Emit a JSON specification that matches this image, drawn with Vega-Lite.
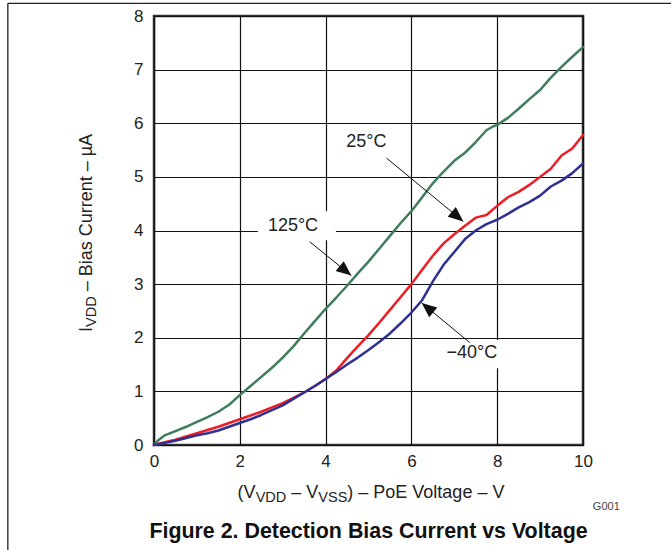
{
  "$schema": "https://vega.github.io/schema/vega-lite/v6.json",
  "width": 429,
  "height": 429,
  "autosize": {"type": "none"},
  "padding": {"left": 154, "top": 16, "right": 88, "bottom": 105},
  "background": "white",
  "config": {
    "view": {"stroke": "#333333", "strokeWidth": 2.5},
    "font": "Liberation Sans",
    "text": {"font": "Liberation Sans"},
    "axis": {
      "grid": true, "gridColor": "#111111", "gridWidth": 1.2, "gridOpacity": 1,
      "domain": false, "ticks": false, "labelFont": "Liberation Sans", "labelFontSize": 17,
      "labelColor": "#222222", "labelFlush": false
    },
    "axisX": {"tickCount": 5, "labelPadding": 8},
    "axisY": {"tickCount": 8, "labelPadding": 11}
  },
  "datasets": {
    "curves": [
      {"v": 0, "i": 0, "s": "125°C"}, {"v": 0.1, "i": 0.09, "s": "125°C"}, {"v": 0.25, "i": 0.18, "s": "125°C"},
      {"v": 0.5, "i": 0.26, "s": "125°C"}, {"v": 0.75, "i": 0.34, "s": "125°C"}, {"v": 1.0, "i": 0.43, "s": "125°C"},
      {"v": 1.25, "i": 0.52, "s": "125°C"}, {"v": 1.5, "i": 0.62, "s": "125°C"}, {"v": 1.75, "i": 0.75, "s": "125°C"},
      {"v": 2.0, "i": 0.93, "s": "125°C"}, {"v": 2.25, "i": 1.1, "s": "125°C"}, {"v": 2.5, "i": 1.27, "s": "125°C"},
      {"v": 2.75, "i": 1.44, "s": "125°C"}, {"v": 3.0, "i": 1.63, "s": "125°C"}, {"v": 3.25, "i": 1.84, "s": "125°C"},
      {"v": 3.5, "i": 2.08, "s": "125°C"}, {"v": 3.75, "i": 2.31, "s": "125°C"}, {"v": 4.0, "i": 2.54, "s": "125°C"},
      {"v": 4.25, "i": 2.75, "s": "125°C"}, {"v": 4.5, "i": 2.97, "s": "125°C"}, {"v": 4.75, "i": 3.2, "s": "125°C"},
      {"v": 5.0, "i": 3.42, "s": "125°C"}, {"v": 5.25, "i": 3.66, "s": "125°C"}, {"v": 5.5, "i": 3.9, "s": "125°C"},
      {"v": 5.75, "i": 4.14, "s": "125°C"}, {"v": 6.0, "i": 4.36, "s": "125°C"}, {"v": 6.25, "i": 4.62, "s": "125°C"},
      {"v": 6.5, "i": 4.88, "s": "125°C"}, {"v": 6.75, "i": 5.1, "s": "125°C"}, {"v": 7.0, "i": 5.3, "s": "125°C"},
      {"v": 7.25, "i": 5.45, "s": "125°C"}, {"v": 7.5, "i": 5.65, "s": "125°C"}, {"v": 7.75, "i": 5.87, "s": "125°C"},
      {"v": 7.9, "i": 5.94, "s": "125°C"}, {"v": 8.0, "i": 5.97, "s": "125°C"}, {"v": 8.25, "i": 6.1, "s": "125°C"},
      {"v": 8.5, "i": 6.27, "s": "125°C"}, {"v": 8.75, "i": 6.45, "s": "125°C"}, {"v": 9.0, "i": 6.62, "s": "125°C"},
      {"v": 9.25, "i": 6.85, "s": "125°C"}, {"v": 9.5, "i": 7.05, "s": "125°C"}, {"v": 9.75, "i": 7.24, "s": "125°C"},
      {"v": 10.0, "i": 7.42, "s": "125°C"},
      {"v": 0, "i": 0, "s": "25°C"}, {"v": 0.25, "i": 0.05, "s": "25°C"}, {"v": 0.5, "i": 0.1, "s": "25°C"},
      {"v": 0.75, "i": 0.16, "s": "25°C"}, {"v": 1.0, "i": 0.22, "s": "25°C"}, {"v": 1.25, "i": 0.28, "s": "25°C"},
      {"v": 1.5, "i": 0.34, "s": "25°C"}, {"v": 1.75, "i": 0.41, "s": "25°C"}, {"v": 2.0, "i": 0.48, "s": "25°C"},
      {"v": 2.25, "i": 0.55, "s": "25°C"}, {"v": 2.5, "i": 0.62, "s": "25°C"}, {"v": 2.75, "i": 0.7, "s": "25°C"},
      {"v": 3.0, "i": 0.78, "s": "25°C"}, {"v": 3.25, "i": 0.88, "s": "25°C"}, {"v": 3.5, "i": 0.98, "s": "25°C"},
      {"v": 3.75, "i": 1.1, "s": "25°C"}, {"v": 4.0, "i": 1.23, "s": "25°C"}, {"v": 4.25, "i": 1.39, "s": "25°C"},
      {"v": 4.5, "i": 1.62, "s": "25°C"}, {"v": 4.75, "i": 1.84, "s": "25°C"}, {"v": 5.0, "i": 2.05, "s": "25°C"},
      {"v": 5.25, "i": 2.28, "s": "25°C"}, {"v": 5.5, "i": 2.52, "s": "25°C"}, {"v": 5.75, "i": 2.76, "s": "25°C"},
      {"v": 6.0, "i": 3.0, "s": "25°C"}, {"v": 6.25, "i": 3.27, "s": "25°C"}, {"v": 6.5, "i": 3.53, "s": "25°C"},
      {"v": 6.75, "i": 3.76, "s": "25°C"}, {"v": 7.0, "i": 3.93, "s": "25°C"}, {"v": 7.25, "i": 4.09, "s": "25°C"},
      {"v": 7.5, "i": 4.24, "s": "25°C"}, {"v": 7.75, "i": 4.29, "s": "25°C"}, {"v": 8.0, "i": 4.46, "s": "25°C"},
      {"v": 8.25, "i": 4.62, "s": "25°C"}, {"v": 8.5, "i": 4.72, "s": "25°C"}, {"v": 8.75, "i": 4.85, "s": "25°C"},
      {"v": 9.0, "i": 5.0, "s": "25°C"}, {"v": 9.25, "i": 5.15, "s": "25°C"}, {"v": 9.5, "i": 5.4, "s": "25°C"},
      {"v": 9.75, "i": 5.53, "s": "25°C"}, {"v": 10.0, "i": 5.78, "s": "25°C"},
      {"v": 0, "i": 0, "s": "−40°C"}, {"v": 0.25, "i": 0.04, "s": "−40°C"}, {"v": 0.5, "i": 0.08, "s": "−40°C"},
      {"v": 0.75, "i": 0.13, "s": "−40°C"}, {"v": 1.0, "i": 0.18, "s": "−40°C"}, {"v": 1.25, "i": 0.22, "s": "−40°C"},
      {"v": 1.5, "i": 0.27, "s": "−40°C"}, {"v": 1.75, "i": 0.34, "s": "−40°C"}, {"v": 2.0, "i": 0.41, "s": "−40°C"},
      {"v": 2.25, "i": 0.48, "s": "−40°C"}, {"v": 2.5, "i": 0.56, "s": "−40°C"}, {"v": 2.75, "i": 0.65, "s": "−40°C"},
      {"v": 3.0, "i": 0.74, "s": "−40°C"}, {"v": 3.25, "i": 0.86, "s": "−40°C"}, {"v": 3.5, "i": 0.98, "s": "−40°C"},
      {"v": 3.75, "i": 1.1, "s": "−40°C"}, {"v": 4.0, "i": 1.23, "s": "−40°C"}, {"v": 4.25, "i": 1.36, "s": "−40°C"},
      {"v": 4.5, "i": 1.5, "s": "−40°C"}, {"v": 4.75, "i": 1.63, "s": "−40°C"}, {"v": 5.0, "i": 1.77, "s": "−40°C"},
      {"v": 5.25, "i": 1.92, "s": "−40°C"}, {"v": 5.5, "i": 2.08, "s": "−40°C"}, {"v": 5.75, "i": 2.27, "s": "−40°C"},
      {"v": 6.0, "i": 2.47, "s": "−40°C"}, {"v": 6.25, "i": 2.7, "s": "−40°C"}, {"v": 6.5, "i": 3.05, "s": "−40°C"},
      {"v": 6.75, "i": 3.36, "s": "−40°C"}, {"v": 7.0, "i": 3.6, "s": "−40°C"}, {"v": 7.25, "i": 3.84, "s": "−40°C"},
      {"v": 7.5, "i": 4.0, "s": "−40°C"}, {"v": 7.75, "i": 4.12, "s": "−40°C"}, {"v": 8.0, "i": 4.2, "s": "−40°C"},
      {"v": 8.25, "i": 4.31, "s": "−40°C"}, {"v": 8.5, "i": 4.43, "s": "−40°C"}, {"v": 8.75, "i": 4.53, "s": "−40°C"},
      {"v": 9.0, "i": 4.65, "s": "−40°C"}, {"v": 9.25, "i": 4.82, "s": "−40°C"}, {"v": 9.5, "i": 4.93, "s": "−40°C"},
      {"v": 9.75, "i": 5.07, "s": "−40°C"}, {"v": 10.0, "i": 5.25, "s": "−40°C"}
    ],
    "boxes": [
      {"x1": 2.42, "x2": 4.24, "y1": 3.82, "y2": 4.36},
      {"x1": 6.67, "x2": 8.18, "y1": 1.43, "y2": 1.96}
    ],
    "labels": [
      {"label": "125°C", "x": 3.24, "y": 4.09},
      {"label": "25°C", "x": 4.95, "y": 5.65},
      {"label": "−40°C", "x": 7.41, "y": 1.72}
    ],
    "arrows": [
      {"label": "125°C", "x": 3.63, "y": 3.79, "tx": 4.6, "ty": 3.16},
      {"label": "25°C", "x": 5.42, "y": 5.35, "tx": 7.21, "ty": 4.17},
      {"label": "−40°C", "x": 7.36, "y": 1.91, "tx": 6.24, "ty": 2.65}
    ],
    "xtitleMain": [
      {"x": 1.949, "y": -0.989, "t": "(V"},
      {"x": 3.2, "y": -0.989, "t": "– V"},
      {"x": 4.506, "y": -0.989, "t": ") – PoE Voltage – V"}
    ],
    "xtitleSub": [
      {"x": 2.369, "y": -1.063, "t": "VDD"},
      {"x": 3.83, "y": -1.063, "t": "VSS"}
    ],
    "ytitleMain": [
      {"x": -1.435, "y": 2.109, "t": "I"},
      {"x": -1.435, "y": 2.866, "t": "– Bias Current – µA"}
    ],
    "ytitleSub": [
      {"x": -1.342, "y": 2.202, "t": "VDD"}
    ],
    "caption": [{"x": 5, "y": -1.735, "t": "Figure 2. Detection Bias Current vs Voltage"}],
    "code": [{"x": 10.23, "y": -1.213, "t": "G001"}],
    "frame": [
      {"x": -3.407, "y": 8.237, "x2": 12.05, "y2": 8.237},
      {"x": -3.407, "y": 8.237, "x2": -3.407, "y2": -1.959}
    ]
  },
  "layer": [
    {
      "data": {"name": "curves"},
      "mark": {"type": "line", "strokeWidth": 2.5, "strokeCap": "round", "strokeJoin": "round"},
      "encoding": {
        "x": {"field": "v", "type": "quantitative", "title": null, "scale": {"domain": [0, 10], "nice": false, "zero": false}},
        "y": {"field": "i", "type": "quantitative", "title": null, "scale": {"domain": [0, 8], "nice": false, "zero": false}},
        "color": {"field": "s", "type": "nominal", "legend": null,
                  "scale": {"domain": ["125°C", "25°C", "−40°C"], "range": ["#3f7d5c", "#ee1c25", "#2e3192"]}}
      }
    },
    {
      "data": {"name": "boxes"},
      "mark": {"type": "rect", "fill": "white"},
      "encoding": {
        "x": {"field": "x1", "type": "quantitative", "title": null, "scale": {"domain": [0, 10], "nice": false, "zero": false}},
        "x2": {"field": "x2"},
        "y": {"field": "y1", "type": "quantitative", "title": null, "scale": {"domain": [0, 8], "nice": false, "zero": false}},
        "y2": {"field": "y2"}
      }
    },
    {
      "data": {"name": "arrows"},
      "mark": {"type": "rule", "color": "#111111", "strokeWidth": 1},
      "encoding": {
        "x": {"field": "x", "type": "quantitative", "title": null, "scale": {"domain": [0, 10], "nice": false, "zero": false}},
        "y": {"field": "y", "type": "quantitative", "title": null, "scale": {"domain": [0, 8], "nice": false, "zero": false}},
        "x2": {"field": "tx"},
        "y2": {"field": "ty"}
      }
    },
    {
      "data": {"name": "arrows"},
      "transform": [{"filter": "datum.label === '125°C'"}],
      "mark": {"type": "point", "shape": "M0,0L0.85,2L-0.85,2Z", "size": 225, "filled": true, "color": "#111111", "opacity": 1, "angle": 129.1},
      "encoding": {
        "x": {"field": "tx", "type": "quantitative", "title": null, "scale": {"domain": [0, 10], "nice": false, "zero": false}},
        "y": {"field": "ty", "type": "quantitative", "title": null, "scale": {"domain": [0, 8], "nice": false, "zero": false}}
      }
    },
    {
      "data": {"name": "arrows"},
      "transform": [{"filter": "datum.label === '25°C'"}],
      "mark": {"type": "point", "shape": "M0,0L0.85,2L-0.85,2Z", "size": 225, "filled": true, "color": "#111111", "opacity": 1, "angle": 129.5},
      "encoding": {
        "x": {"field": "tx", "type": "quantitative", "title": null, "scale": {"domain": [0, 10], "nice": false, "zero": false}},
        "y": {"field": "ty", "type": "quantitative", "title": null, "scale": {"domain": [0, 8], "nice": false, "zero": false}}
      }
    },
    {
      "data": {"name": "arrows"},
      "transform": [{"filter": "datum.label === '−40°C'"}],
      "mark": {"type": "point", "shape": "M0,0L0.85,2L-0.85,2Z", "size": 225, "filled": true, "color": "#111111", "opacity": 1, "angle": 309.6},
      "encoding": {
        "x": {"field": "tx", "type": "quantitative", "title": null, "scale": {"domain": [0, 10], "nice": false, "zero": false}},
        "y": {"field": "ty", "type": "quantitative", "title": null, "scale": {"domain": [0, 8], "nice": false, "zero": false}}
      }
    },
    {
      "data": {"name": "labels"},
      "mark": {"type": "text", "fontSize": 18, "color": "#222222", "align": "center", "baseline": "middle"},
      "encoding": {
        "x": {"field": "x", "type": "quantitative", "title": null, "scale": {"domain": [0, 10], "nice": false, "zero": false}},
        "y": {"field": "y", "type": "quantitative", "title": null, "scale": {"domain": [0, 8], "nice": false, "zero": false}},
        "text": {"field": "label"}
      }
    },
    {
      "data": {"name": "xtitleMain"},
      "mark": {"type": "text", "fontSize": 18, "color": "#222222", "align": "left", "baseline": "alphabetic"},
      "encoding": {
        "x": {"field": "x", "type": "quantitative", "title": null, "scale": {"domain": [0, 10], "nice": false, "zero": false}},
        "y": {"field": "y", "type": "quantitative", "title": null, "scale": {"domain": [0, 8], "nice": false, "zero": false}},
        "text": {"field": "t"}
      }
    },
    {
      "data": {"name": "xtitleSub"},
      "mark": {"type": "text", "fontSize": 14.5, "color": "#222222", "align": "left", "baseline": "alphabetic"},
      "encoding": {
        "x": {"field": "x", "type": "quantitative", "title": null, "scale": {"domain": [0, 10], "nice": false, "zero": false}},
        "y": {"field": "y", "type": "quantitative", "title": null, "scale": {"domain": [0, 8], "nice": false, "zero": false}},
        "text": {"field": "t"}
      }
    },
    {
      "data": {"name": "ytitleMain"},
      "mark": {"type": "text", "fontSize": 18, "color": "#222222", "align": "left", "baseline": "alphabetic", "angle": 270},
      "encoding": {
        "x": {"field": "x", "type": "quantitative", "title": null, "scale": {"domain": [0, 10], "nice": false, "zero": false}},
        "y": {"field": "y", "type": "quantitative", "title": null, "scale": {"domain": [0, 8], "nice": false, "zero": false}},
        "text": {"field": "t"}
      }
    },
    {
      "data": {"name": "ytitleSub"},
      "mark": {"type": "text", "fontSize": 14.5, "color": "#222222", "align": "left", "baseline": "alphabetic", "angle": 270},
      "encoding": {
        "x": {"field": "x", "type": "quantitative", "title": null, "scale": {"domain": [0, 10], "nice": false, "zero": false}},
        "y": {"field": "y", "type": "quantitative", "title": null, "scale": {"domain": [0, 8], "nice": false, "zero": false}},
        "text": {"field": "t"}
      }
    },
    {
      "data": {"name": "caption"},
      "mark": {"type": "text", "fontSize": 21.4, "fontWeight": "bold", "color": "#111111", "align": "center", "baseline": "alphabetic"},
      "encoding": {
        "x": {"field": "x", "type": "quantitative", "title": null, "scale": {"domain": [0, 10], "nice": false, "zero": false}},
        "y": {"field": "y", "type": "quantitative", "title": null, "scale": {"domain": [0, 8], "nice": false, "zero": false}},
        "text": {"field": "t"}
      }
    },
    {
      "data": {"name": "code"},
      "mark": {"type": "text", "fontSize": 11, "color": "#444444", "align": "left", "baseline": "alphabetic"},
      "encoding": {
        "x": {"field": "x", "type": "quantitative", "title": null, "scale": {"domain": [0, 10], "nice": false, "zero": false}},
        "y": {"field": "y", "type": "quantitative", "title": null, "scale": {"domain": [0, 8], "nice": false, "zero": false}},
        "text": {"field": "t"}
      }
    },
    {
      "data": {"name": "frame"},
      "mark": {"type": "rule", "color": "#222222", "strokeWidth": 1.3},
      "encoding": {
        "x": {"field": "x", "type": "quantitative", "title": null, "scale": {"domain": [0, 10], "nice": false, "zero": false}},
        "y": {"field": "y", "type": "quantitative", "title": null, "scale": {"domain": [0, 8], "nice": false, "zero": false}},
        "x2": {"field": "x2"},
        "y2": {"field": "y2"}
      }
    }
  ]
}
